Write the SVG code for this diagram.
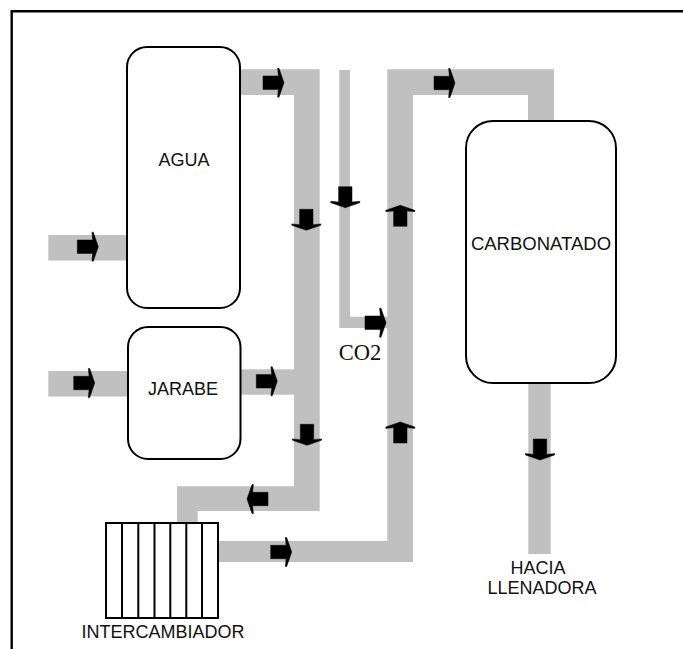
<svg xmlns="http://www.w3.org/2000/svg" width="683" height="649" viewBox="0 0 683 649">
<style>
.pipe{fill:#c0c0c0;stroke:none}
.tank{fill:#fff;stroke:#000;stroke-width:2}
.frame{fill:none;stroke:#000;stroke-width:2.4}
.lbl{font-family:"Liberation Sans",Arial,sans-serif;font-size:18px;fill:#111;text-anchor:middle}
.co2{font-family:"Liberation Serif","Times New Roman",serif;font-size:22.5px;fill:#111;text-anchor:middle}
</style>
<defs>
<path id="arrow" d="M-21,-6.7L-5.6,-6.7L-6.4,-14.5L-5,-14.5L0,0L-5,14.5L-6.4,14.5L-5.6,6.7L-21,6.7Z" fill="#000" stroke="#000" stroke-width="0.5" stroke-linejoin="round"/>
</defs>
<rect width="683" height="649" fill="#fff"/>
<path id="frame" class="frame" d="M11.7,649V11.2H683"/>
<g id="connectors">
<path class="pipe" d="M241,69.3H319.7V511H197.7V523H177V486.3H294V95H241Z"/>
<path class="pipe" d="M339.3,70H350V316.7H388V328H339.3Z"/>
<path class="pipe" d="M218,541H387.3V69.3H554V120H528V95H413V562H218Z"/>
<rect class="pipe" x="48.3" y="235" width="80" height="25.5"/>
<rect class="pipe" x="48.3" y="371" width="80" height="25.5"/>
<rect class="pipe" x="240" y="369.3" width="56" height="25.4"/>
<rect class="pipe" x="528.3" y="382" width="22.4" height="172"/>
<use href="#arrow" transform="translate(284,82.7)"/>
<use href="#arrow" transform="translate(455,83)"/>
<use href="#arrow" transform="translate(98.3,246.7)"/>
<use href="#arrow" transform="translate(94.7,383)"/>
<use href="#arrow" transform="translate(277.3,381.3)"/>
<use href="#arrow" transform="translate(386,322.7)"/>
<use href="#arrow" transform="translate(291.7,552)"/>
<use href="#arrow" transform="translate(247,499) rotate(180)"/>
<use href="#arrow" transform="translate(306.3,230.3) rotate(90)"/>
<use href="#arrow" transform="translate(345.3,207.7) rotate(90)"/>
<use href="#arrow" transform="translate(307,445.3) rotate(90)"/>
<use href="#arrow" transform="translate(540,460) rotate(90)"/>
<use href="#arrow" transform="translate(400.3,205.3) rotate(-90)"/>
<use href="#arrow" transform="translate(400.3,422) rotate(-90)"/>
</g>
<g id="agua">
<rect class="tank" x="127" y="47" width="113" height="261" rx="20"/>
<text class="lbl" x="184" y="166">AGUA</text>
</g>
<g id="jarabe">
<rect class="tank" x="128" y="327" width="112.5" height="132" rx="20"/>
<text class="lbl" x="183" y="395">JARABE</text>
</g>
<g id="carbonatado">
<rect class="tank" x="466" y="121" width="150" height="262" rx="27"/>
<text class="lbl" x="541" y="250" style="font-size:18.5px">CARBONATADO</text>
</g>
<g id="intercambiador">
<rect class="tank" x="106" y="523" width="112" height="95"/>
<path d="M122,523V618M138.3,523V618M154.5,523V618M170.3,523V618M186.3,523V618M202,523V618" fill="none" stroke="#000" stroke-width="2"/>
<text class="lbl" x="163" y="638">INTERCAMBIADOR</text>
</g>
<g id="co2-label"><text class="co2" x="360" y="360">CO2</text></g>
<g id="hacia-llenadora">
<text class="lbl" x="538" y="574">HACIA</text>
<text class="lbl" x="542" y="594">LLENADORA</text>
</g>
</svg>
